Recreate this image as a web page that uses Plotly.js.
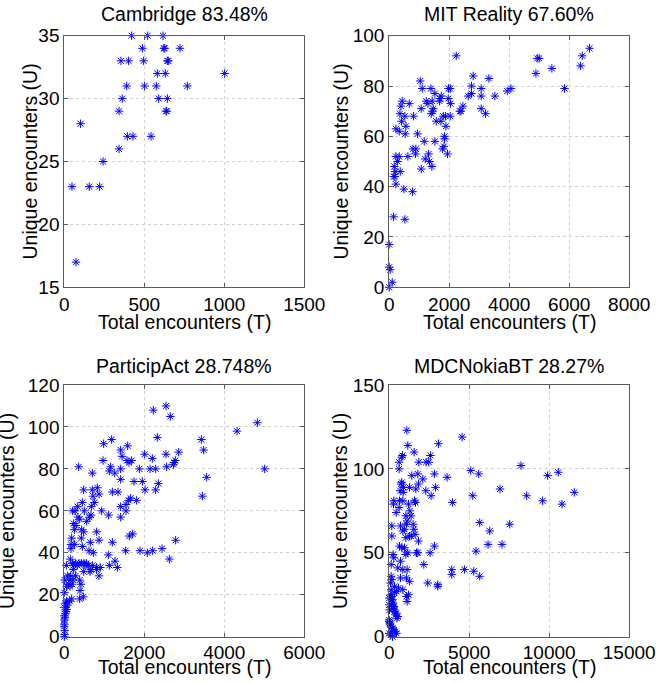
<!DOCTYPE html>
<html>
<head>
<meta charset="utf-8">
<script src="https://cdn.plot.ly/plotly-3.0.1.min.js"></script>
<style>html,body{margin:0;padding:0;background:#fff;}#chart{width:656px;height:683px;}</style>
</head>
<body>
<div id="chart"></div>
<script>
// ---- Data ----
const titles = ["Cambridge 83.48%", "MIT Reality 67.60%", "ParticipAct 28.748%", "MDCNokiaBT 28.27%"];
const xLabel = "Total encounters (T)";
const yLabel = "Unique encounters (U)";

const cambridgeT = [421,521,617, 488,622,628,723, 354,402,496,644,650, 581,631,1002, 390,502,575,769, 362,590,644, 342,636,640, 102, 394,429,542, 342, 242, 48,156,221, 73];
const cambridgeU = [35,35,35, 34,34,34,34, 33,33,33,33,33, 32,32,32, 31,31,31,31, 30,30,30, 29,29,29, 28, 27,27,27, 26, 25, 23,23,23, 17];

const mitT = [6679,6434,6379,2234,4934,5001,5423,4890,2801,3323,1034,2745,3067,4056,3934,5845,1101,1390,1979,2034,1523,2745,2634,3067,3523,1734,1690,1968,434,390,668,1234,1290,1434,1679,2045,2456,2390,2356,3067,3212,1068,1468,1401,1450,357,523,812,1801,1879,2034,1568,1723,412,557,223,334,534,946,1890,1845,1845,1168,1523,1823,1779,790,890,1945,879,1312,223,334,623,1201,1345,279,168,1423,1068,201,368,157,190,223,490,779,146,523,0,0,33,101,0];
const mitU = [95,92,88,92,91,91,87,85,84,83,82,80,79,79,78,79,79,79,79,79,77,77,76,76,76,76,75,75,74,72,73,74,73,74,74,73,72,70,70,71,69,71,71,69,70,69,68,68,68,68,68,66,66,66,64,63,62,61,61,64,60,59,58,58,56,55,55,55,53,53,53,52,52,52,51,50,50,48,48,47,46,46,44,44,41,39,38,28,27,17,8,7,2,0];

const participT = [2543,2226,2651,4826,4318,2326,1184,3426,984,1584,3484,1409,2009,2543,2859,1443,2201,968,1568,1618,1684,2776,2743,2726,359,2559,1159,1409,1876,2143,2284,5009,1126,1259,701,3559,1409,1743,1951,2351,484,701,826,1201,1343,2018,2284,718,868,1659,1809,1609,3451,451,751,1543,1409,334,676,934,1543,209,268,501,1109,668,626,343,384,1409,559,234,293,251,434,484,809,184,426,1626,1709,2784,868,651,1201,168,259,168,451,618,726,1534,1893,2076,2209,2443,1101,2626,1268,151,51,209,284,368,426,493,551,234,326,518,609,709,809,901,1126,226,668,809,484,643,868,76,159,284,9,143,218,384,109,193,418,59,143,393,384,476,0,59,134,184,26,76,0,59,43,0,0,0,9,9,0,0,18,30,1326];
const participU = [110,108,105,102,98,95,94,94,92,91,89,89,87,87,88,86,85,84,84,83,84,84,83,82,81,81,81,80,80,80,80,80,79,78,78,76,75,74,74,73,70,70,71,69,69,70,70,67,68,66,65,65,67,64,64,63,62,62,62,60,60,60,60,60,58,58,57,57,56,57,55,54,53,51,51,50,50,47,47,48,49,46,46,45,45,44,44,42,43,41,40,41,41,40,41,42,39,37,36,37,34,35,35,35,35,35,35,34,34,34,34,34,33,33,34,32,32,32,31,31,29,29,29,29,27,27,27,27,25,25,25,24,24,22,18,19,21,17,17,18,16,15,14,13,12,10,6,5,3,1,0,8,9,11,33];

const mdcT = [1100,4555,1163,3077,1559,2578,830,788,622,1850,2308,2474,8237,622,5096,10567,9902,5595,1413,1787,2828,3618,2099,788,746,1829,2890,1267,1663,886,6927,2287,11567,686,873,5220,2620,8591,9590,10797,3951,289,643,852,1580,1642,268,622,1205,1288,435,5657,7530,1040,1373,1122,1496,706,955,1080,851,164,1538,1621,1371,1038,1267,1829,164,643,789,955,247,1038,1163,1705,1787,2557,2828,5429,6178,7052,6281,289,706,123,2162,539,851,1122,3909,3909,4700,5657,5283,123,164,706,1080,1267,2412,3036,3036,851,580,331,1205,1080,1122,0,19,81,123,164,206,247,289,331,435,539,0,40,100,150,200,260,320,400,480,0,60,140,220,300,380,460,0,81,206,331,460,0,123,247];
const mdcU = [123,119,114,115,110,108,108,107,104,104,104,104,102,100,99,98,96,97,96,97,97,95,94,92,91,91,89,89,88,89,88,87,86,87,86,84,84,84,81,79,80,81,81,81,81,80,79,77,79,75,74,68,67,72,72,69,67,66,64,67,63,66,64,61,60,59,60,57,60,54,53,53,49,49,50,50,50,50,54,51,55,55,63,47,45,43,43,41,40,40,40,37,40,36,39,36,34,35,35,33,32,31,30,28,29,26,25,24,21,19,16,32,28,24,22,20,18,16,14,12,10,8,25,22,19,17,15,13,11,9,7,6,5,4,3,2,2,1,0,30,27,23];

// ---- Layout geometry helpers ----
const W = 656, H = 683;
const px = v => v / W;
const py = v => 1 - v / H;

const mk = {symbol: 'asterisk-open', size: 7, color: '#0000ff', line: {color: '#0000ff', width: 1}};
function tr(x, y, xa, ya) {
  return {x: x, y: y, type: 'scatter', mode: 'markers', xaxis: xa, yaxis: ya,
          marker: mk, cliponaxis: false, hoverinfo: 'skip', showlegend: false};
}
const data = [
  tr(cambridgeT, cambridgeU, 'x', 'y'),
  tr(mitT, mitU, 'x2', 'y2'),
  tr(participT, participU, 'x3', 'y3'),
  tr(mdcT, mdcU, 'x4', 'y4')
];

const fontFam = '"Liberation Sans", Arial, Helvetica, sans-serif';
function ax(range, dtick, domain, anchor, standoff) {
  const a = {range: range, dtick: dtick, tick0: 0, domain: domain, anchor: anchor,
          showline: true, mirror: 'ticks', linecolor: '#5a5a5a', linewidth: 1,
          ticks: 'inside', ticklen: 4, tickcolor: '#5a5a5a', tickwidth: 1,
          showgrid: true, gridcolor: '#d0d0d0', griddash: 'dot', gridwidth: 1,
          zeroline: false, fixedrange: true, exponentformat: 'none', separatethousands: false,
          tickformat: 'd',
          tickfont: {family: fontFam, size: 19, color: '#000'}};
  if (standoff !== undefined) a.ticklabelstandoff = standoff;
  return a;
}
const xL = [px(64.3), px(304.3)], xR = [px(389.2), px(629.2)];
const yT = [py(287.3), py(35.7)], yB = [py(636.7), py(385)];

const layout = {
  width: W, height: H, margin: {l: 0, r: 0, t: 0, b: 0},
  paper_bgcolor: '#fff', plot_bgcolor: '#fff',
  font: {family: fontFam, color: '#000'},
  xaxis: ax([0, 1500], 500, xL, 'y'),
  yaxis: ax([15, 35], 5, yT, 'x'),
  xaxis2: ax([0, 8000], 2000, xR, 'y2'),
  yaxis2: ax([0, 100], 20, yT, 'x2'),
  xaxis3: ax([0, 6000], 2000, xL, 'y3', -2),
  yaxis3: ax([0, 120], 20, yB, 'x3'),
  xaxis4: ax([0, 15000], 5000, xR, 'y4', -2),
  yaxis4: ax([0, 150], 50, yB, 'x4'),
  annotations: []
};

function ann(text, x, y, size, angle) {
  return {text: text, xref: 'paper', yref: 'paper', x: px(x), y: py(y),
          xanchor: 'center', yanchor: 'middle', showarrow: false,
          textangle: angle || 0, font: {family: fontFam, size: size, color: '#000'}};
}
const cx = [184.3, 509.2], tyTitle = [14, 366], tyX = [322, 667], cyPlot = [161.5, 511];
const yLabX = [[29, 340], [7, 340]];
for (let r = 0; r < 2; r++) {
  for (let c = 0; c < 2; c++) {
    layout.annotations.push(ann(titles[r * 2 + c], cx[c], tyTitle[r], 19.5));
    layout.annotations.push(ann(xLabel, cx[c], tyX[r], 19.5));
    layout.annotations.push(ann(yLabel, yLabX[r][c], cyPlot[r], 19.5, -90));
  }
}

Plotly.newPlot('chart', data, layout, {staticPlot: true, displayModeBar: false});
</script>
</body>
</html>
